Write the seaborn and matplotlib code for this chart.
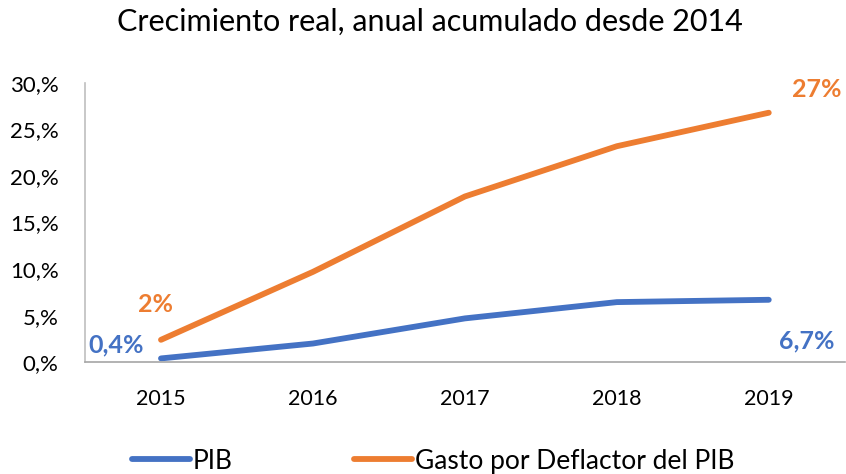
import pandas as pd
import numpy as np
import matplotlib.pyplot as plt
import seaborn as sns

# datos
years = ['2015', '2016', '2017', '2018', '2019']
pib = [0.4, 2.0, 4.7, 6.45, 6.7]
gasto = [2.4, 9.7, 17.8, 23.2, 26.8]
series_names = ['PIB', 'Gasto por Deflactor del PIB']
end_labels = {'PIB': ('0,4%', '6,7%'), 'Gasto por Deflactor del PIB': ('2%', '27%')}
yticks = [0, 5, 10, 15, 20, 25, 30]

colors = {'PIB': '#4472C4', 'Gasto por Deflactor del PIB': '#ED7D31'}

df = pd.DataFrame({
    'year': years * 2,
    'value': pib + gasto,
    'serie': [series_names[0]] * len(years) + [series_names[1]] * len(years),
})

sns.set_theme(style='white')
plt.rcParams['font.family'] = ['Lato', 'DejaVu Sans']
plt.rcParams['text.color'] = '#000000'
plt.rcParams['xtick.color'] = '#000000'
plt.rcParams['ytick.color'] = '#000000'

fig = plt.figure(figsize=(8.46, 4.74), dpi=100)
ax = fig.add_axes([0.1005, 0.236, 0.898, 0.589])

sns.lineplot(data=df, x='year', y='value', hue='serie', palette=colors,
             linewidth=4.2, ax=ax, legend=True, solid_capstyle='round')

ax.set_xlim(-0.5, 4.5)
ax.set_ylim(0, 30)
ax.set_yticks(yticks)
ax.set_yticklabels([f'{t},%' for t in yticks], fontsize=16)
ax.tick_params(axis='x', labelsize=15.5, pad=13)
ax.tick_params(axis='y', pad=19, length=0)
ax.set_xlabel('')
ax.set_ylabel('')

for s in ['top', 'right']:
    ax.spines[s].set_visible(False)
ax.spines['left'].set_color('#BFBFBF')
ax.spines['bottom'].set_color('#A6A6A6')
ax.spines['left'].set_linewidth(1.2)
ax.spines['bottom'].set_linewidth(1.2)

# etiquetas de inicio y final
offsets = {
    'PIB': ((-45, 13), (38, -41)),
    'Gasto por Deflactor del PIB': ((-5, 35), (48, 23)),
}
for name, vals in [('PIB', pib), ('Gasto por Deflactor del PIB', gasto)]:
    first, last = end_labels[name]
    o1, o2 = offsets[name]
    ax.annotate(first, xy=(0, vals[0]), xytext=o1, textcoords='offset pixels',
                ha='center', va='center', fontsize=18, fontweight='bold',
                color=colors[name])
    ax.annotate(last, xy=(4, vals[-1]), xytext=o2, textcoords='offset pixels',
                ha='center', va='center', fontsize=18, fontweight='bold',
                color=colors[name], annotation_clip=False)

fig.text(0.508, 0.953, 'Crecimiento real, anual acumulado desde 2014',
         ha='center', va='center', fontsize=22)

handles, labels = ax.get_legend_handles_labels()
ax.legend_.remove()
fig.legend(handles, labels, loc='center', bbox_to_anchor=(0.512, 0.027),
           ncol=2, frameon=False, fontsize=19, handlelength=2.2,
           handletextpad=0.1, columnspacing=4.6)

fig.savefig('out.png', dpi=100)
